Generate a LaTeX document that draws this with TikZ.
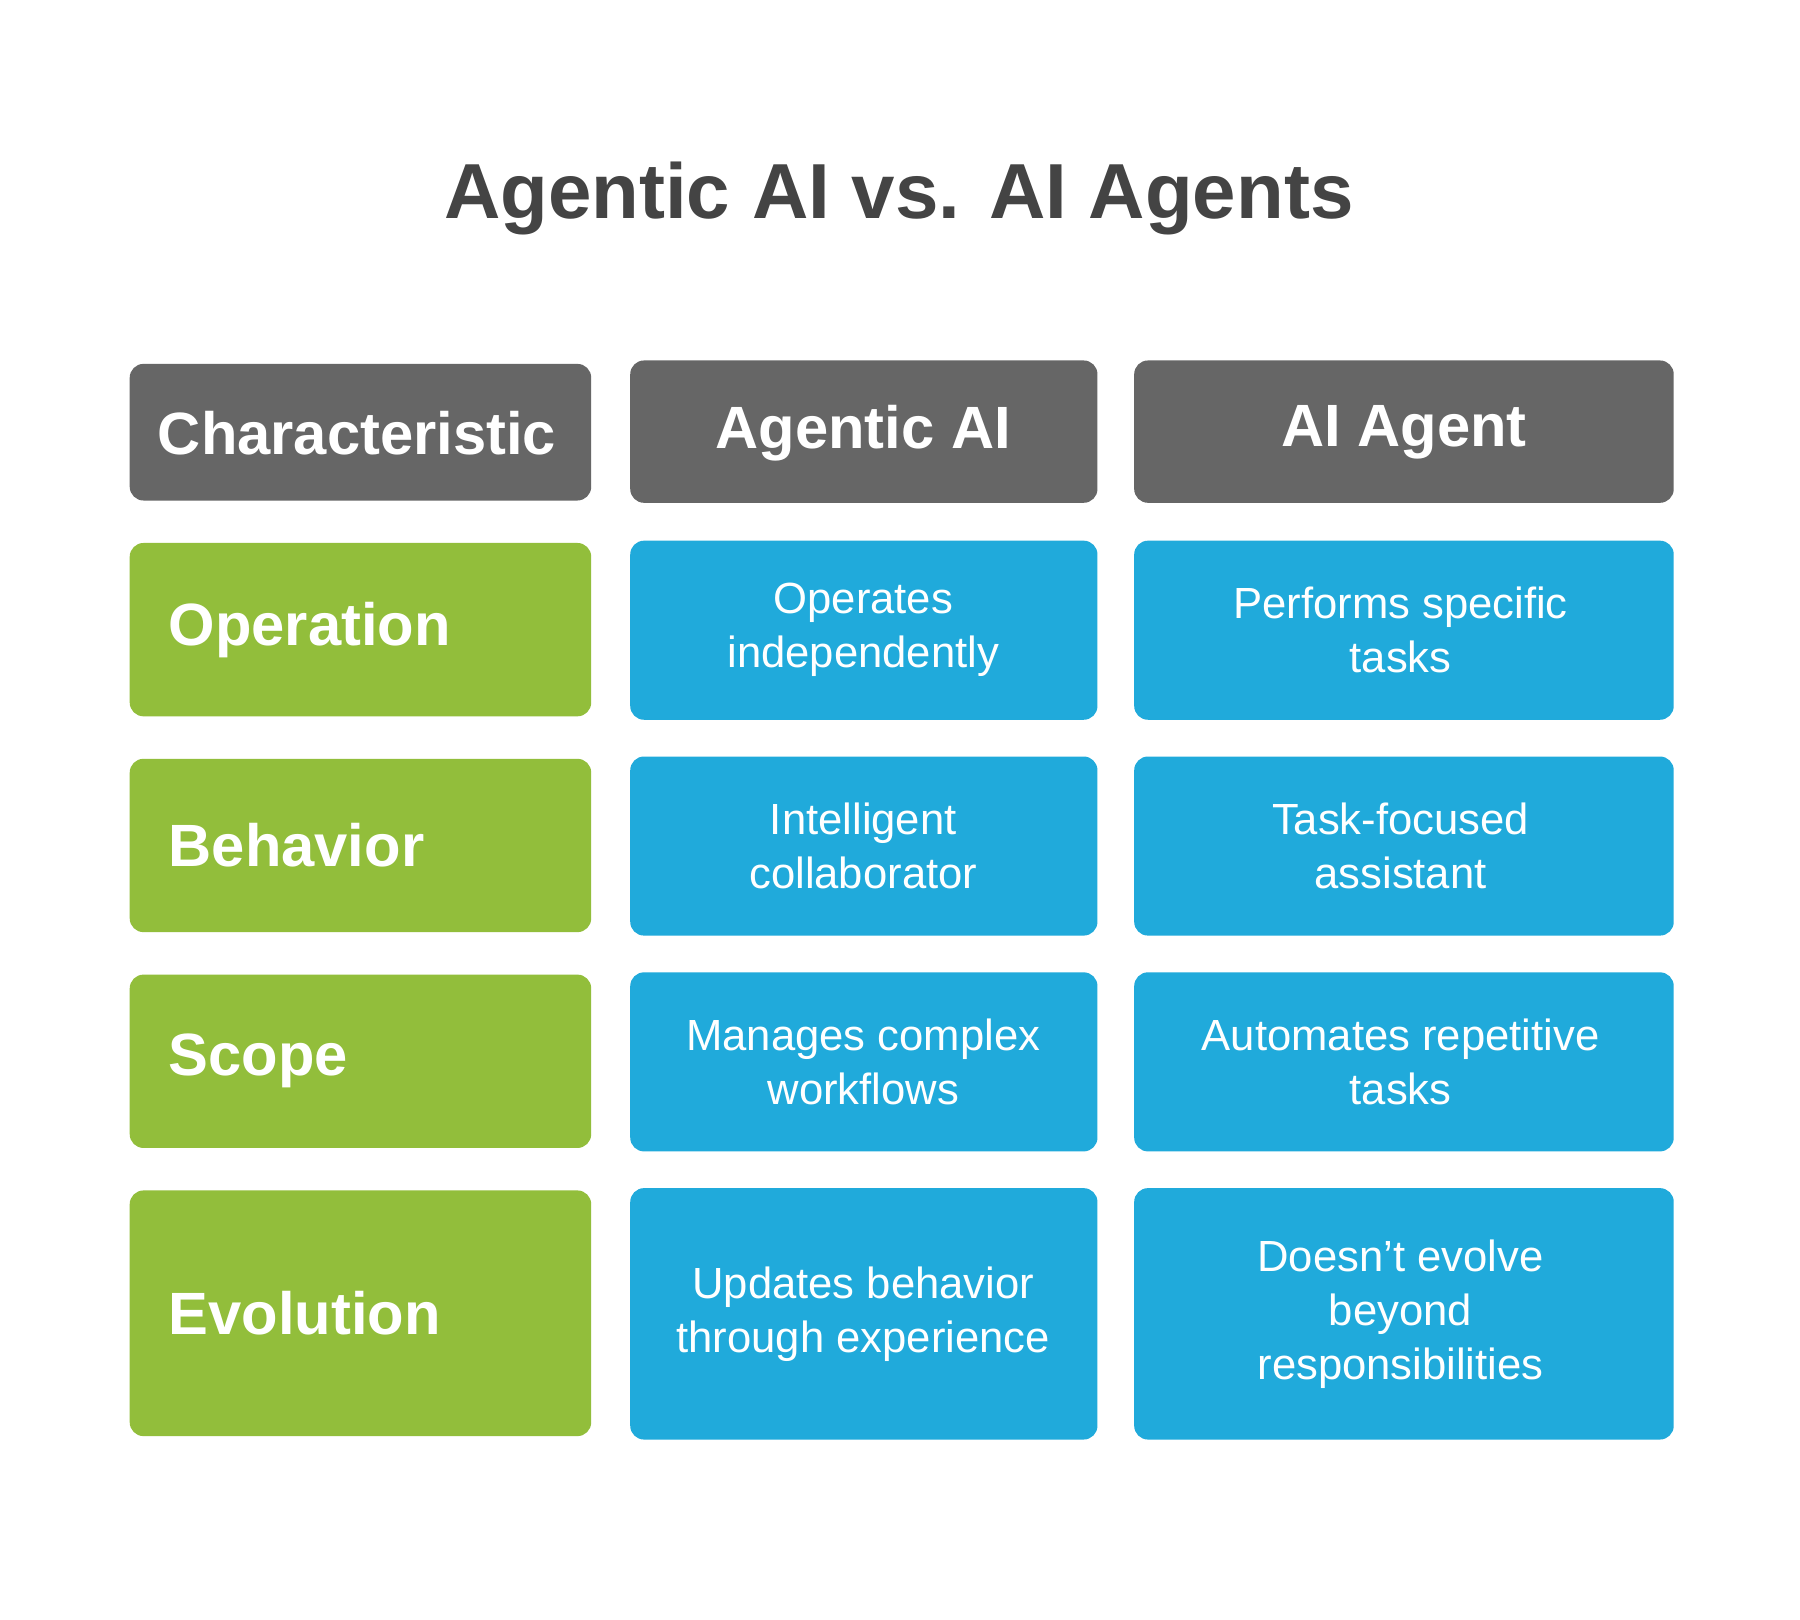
\documentclass[tikz,border=0pt]{standalone}
\usepackage{fontspec}
\setmainfont{Liberation Sans}
\definecolor{hd}{HTML}{666666}
\definecolor{gr}{HTML}{92BE3B}
\definecolor{bl}{HTML}{20AADB}
\definecolor{tt}{HTML}{444444}
\begin{document}
\begin{tikzpicture}[x=0.5pt,y=-0.5pt,
 cell/.style={rounded corners=6pt,line width=0pt},
 hdtext/.style={text=white,font=\fontsize{26}{30}\selectfont\bfseries},
 bodytext/.style={text=white,align=center,font=\fontsize{19}{23.5}\selectfont}]
\useasboundingbox (0,0) rectangle (1568,1411);
\fill[white] (0,0) rectangle (1568,1411);
\node[text=tt,font=\fontsize{34}{40}\selectfont\bfseries] (title) at (783,173) {Agentic AI vs. AI Agents};
% header
\fill[hd,cell] (113,317) rectangle (515,436);
\fill[hd,cell] (549,314) rectangle (956,438);
\fill[hd,cell] (988,314) rectangle (1458,438);
\node[hdtext] (h1) at (311,377) {Characteristic};
\node[hdtext] (h2) at (752,377) {Agentic AI};
\node[hdtext] (h3) at (1223,377) {AI Agent};
% rows
\foreach \gt/\gb/\bt/\bb/\lab/\ta/\tb [count=\i] in {
 473/624/471/627/Operation/{Operates\\independently}/{Performs specific\\tasks},
 661/812/659/815/Behavior/{Intelligent\\collaborator}/{Task-focused\\assistant},
 849/1000/847/1003/Scope/{Manages complex\\workflows}/{Automates repetitive\\tasks},
 1037/1251/1035/1254/Evolution/{Updates behavior\\through experience}/{Doesn’t evolve\\beyond\\responsibilities}}{
 \fill[gr,cell] (113,\gt) rectangle (515,\gb);
 \fill[bl,cell] (549,\bt) rectangle (956,\bb);
 \fill[bl,cell] (988,\bt) rectangle (1458,\bb);
 \node[hdtext,anchor=west] (l\i) at (140,{(\gt+\gb)/2}) {\lab};
 \node[bodytext] (a\i) at (752,{(\bt+\bb)/2}) {\ta};
 \node[bodytext] (b\i) at (1220,{(\bt+\bb)/2}) {\tb};
}
\end{tikzpicture}
\end{document}
